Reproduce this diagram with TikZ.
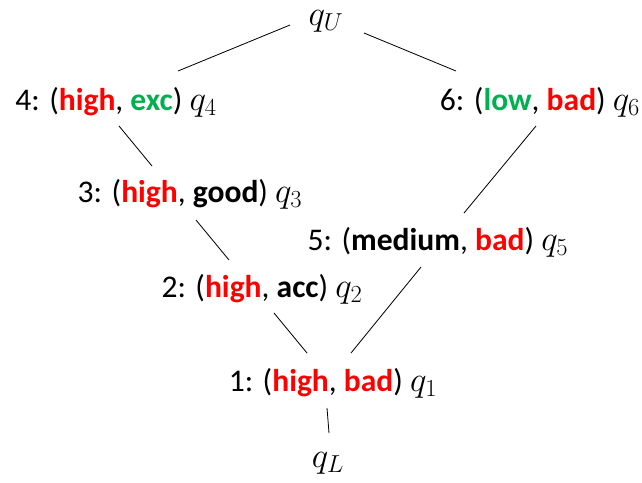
\RequirePackage{fix-cm}
\documentclass[tikz,border=0pt]{standalone}
\usepackage{fontspec}
\setmainfont{Carlito}
\usepackage{xcolor}
\usetikzlibrary{positioning}

\definecolor{lowred}{RGB}{255,0,0}
\definecolor{highgreen}{RGB}{0,176,80}
\newcommand{\redval}[1]{\textcolor{lowred}{\textbf{#1}}}
\newcommand{\greenval}[1]{\textcolor{highgreen}{\textbf{#1}}}
\newcommand{\qel}[1]{{\fontsize{25.5}{30}\selectfont$q_{#1}$}}

\begin{document}
\begin{tikzpicture}[
    x=0.0256cm, y=-0.0256cm,
    state/.style={anchor=base, inner sep=0pt, font=\fontsize{23}{28}\selectfont},
    link/.style={line width=0.6pt}
]
\useasboundingbox (0,0) rectangle (642,482);

% top and bottom elements
\node[state] (qU) at (326,25) {\qel{U}};
\node[state] (qL) at (328,467) {\qel{L}};

% the six classes
\node[state] (n4) at (116,110) {4: (\redval{high}, \greenval{exc}) \qel{4}};
\node[state] (n6) at (540,110) {6: (\greenval{low}, \redval{bad}) \qel{6}};
\node[state] (n3) at (190,202) {3: (\redval{high}, \textbf{good}) \qel{3}};
\node[state] (n5) at (438,250) {5: (\textbf{medium}, \redval{bad}) \qel{5}};
\node[state] (n2) at (262,297) {2: (\redval{high}, \textbf{acc}) \qel{2}};
\node[state] (n1) at (333,391) {1: (\redval{high}, \redval{bad}) \qel{1}};

% order relation
\draw[link] ([shift={(-36,0)}]qU.base) -- ([shift={(62,-39)}]n4.base);
\draw[link] ([shift={(38,8)}]qU.base) -- ([shift={(-84,-39)}]n6.base);
\draw[link] ([shift={(3,16)}]n4.base) -- ([shift={(-38,-36)}]n3.base);
\draw[link] ([shift={(6,18)}]n3.base) -- ([shift={(-33,-37)}]n2.base);
\draw[link] ([shift={(-4,16)}]n6.base) -- ([shift={(26,-37)}]n5.base);
\draw[link] ([shift={(-17,17)}]n5.base) -- ([shift={(18,-38)}]n1.base);
\draw[link] ([shift={(12,16)}]n2.base) -- ([shift={(-26,-38)}]n1.base);
\draw[link] ([shift={(-6,17)}]n1.base) -- ([shift={(1,-34)}]qL.base);

\end{tikzpicture}
\end{document}
